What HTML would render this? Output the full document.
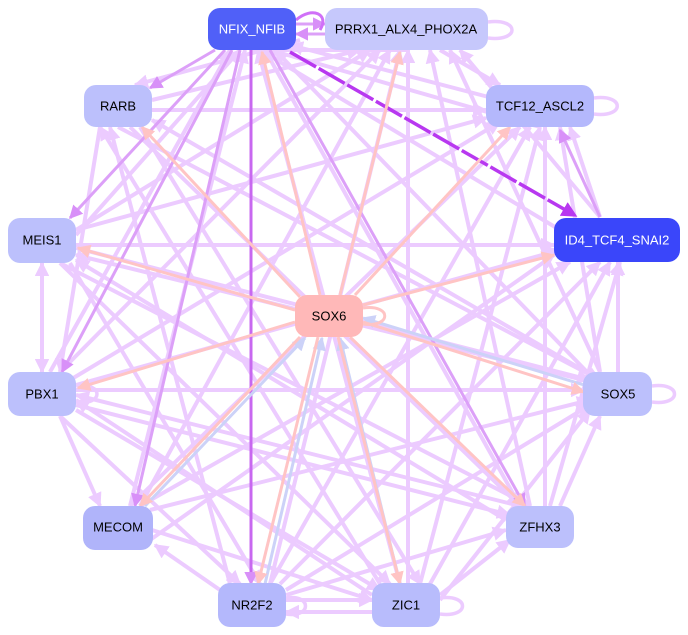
<!DOCTYPE html>
<html><head><meta charset="utf-8"><style>
html,body{margin:0;padding:0;background:#fff;width:688px;height:635px;overflow:hidden}
svg{display:block}
text{font-family:"Liberation Sans",sans-serif;font-size:13px;text-anchor:middle;dominant-baseline:central}
</style></head><body>
<svg width="688" height="635" viewBox="0 0 688 635" xmlns="http://www.w3.org/2000/svg">
<defs>
<marker id="al" viewBox="0 0 10 10" refX="9" refY="5" markerWidth="3.6" markerHeight="3.6" orient="auto"><path d="M0,0L10,5L0,10z" fill="#eccbff"/></marker>
<marker id="ad" viewBox="0 0 10 10" refX="9" refY="5" markerWidth="4.5" markerHeight="4.5" orient="auto"><path d="M0,0L10,5L0,10z" fill="#d890f8"/></marker>
<marker id="ap" viewBox="0 0 10 10" refX="9" refY="5" markerWidth="4.5" markerHeight="4.5" orient="auto"><path d="M0,0L10,5L0,10z" fill="#b838f0"/></marker>
<marker id="as" viewBox="0 0 10 10" refX="9" refY="5" markerWidth="4.5" markerHeight="4.5" orient="auto"><path d="M0,0L10,5L0,10z" fill="#ffc4c4"/></marker>
<marker id="ab" viewBox="0 0 10 10" refX="9" refY="5" markerWidth="4.5" markerHeight="4.5" orient="auto"><path d="M0,0L10,5L0,10z" fill="#ccd2f8"/></marker>
</defs>
<g stroke="#eccbff" stroke-width="4" fill="none" marker-end="url(#al)">
<line x1="406" y1="50" x2="252" y2="50"/>
<line x1="300" y1="40" x2="135" y2="85"/>
<line x1="500" y1="100" x2="290" y2="45"/>
<line x1="540" y1="127" x2="270" y2="50"/>
<line x1="76" y1="235" x2="240" y2="50"/>
<line x1="560" y1="230" x2="260" y2="50"/>
<line x1="50" y1="372" x2="230" y2="50"/>
<line x1="590" y1="375" x2="275" y2="50"/>
<line x1="130" y1="506" x2="245" y2="50"/>
<line x1="520" y1="506" x2="265" y2="50"/>
<line x1="400" y1="584" x2="258" y2="50"/>
<line x1="152" y1="100" x2="360" y2="50"/>
<line x1="440" y1="50" x2="500" y2="85"/>
<line x1="76" y1="230" x2="370" y2="50"/>
<line x1="600" y1="217" x2="460" y2="50"/>
<line x1="60" y1="372" x2="380" y2="50"/>
<line x1="600" y1="372" x2="450" y2="50"/>
<line x1="140" y1="506" x2="390" y2="50"/>
<line x1="530" y1="506" x2="430" y2="50"/>
<line x1="270" y1="584" x2="400" y2="50"/>
<line x1="408" y1="584" x2="408" y2="50"/>
<line x1="152" y1="110" x2="486" y2="110"/>
<line x1="118" y1="127" x2="600" y2="380"/>
<line x1="100" y1="127" x2="60" y2="372"/>
<line x1="130" y1="127" x2="520" y2="506"/>
<line x1="140" y1="127" x2="420" y2="584"/>
<line x1="76" y1="245" x2="554" y2="245"/>
<line x1="76" y1="248" x2="590" y2="380"/>
<line x1="60" y1="263" x2="530" y2="506"/>
<line x1="60" y1="263" x2="390" y2="584"/>
<line x1="76" y1="230" x2="486" y2="118"/>
<line x1="42" y1="263" x2="42" y2="372"/>
<line x1="42" y1="372" x2="42" y2="263"/>
<line x1="70" y1="263" x2="260" y2="584"/>
<line x1="76" y1="390" x2="584" y2="390"/>
<line x1="76" y1="385" x2="560" y2="250"/>
<line x1="70" y1="380" x2="500" y2="122"/>
<line x1="76" y1="405" x2="510" y2="515"/>
<line x1="76" y1="410" x2="380" y2="590"/>
<line x1="60" y1="416" x2="240" y2="584"/>
<line x1="60" y1="416" x2="100" y2="506"/>
<line x1="152" y1="530" x2="372" y2="600"/>
<line x1="150" y1="510" x2="590" y2="400"/>
<line x1="140" y1="506" x2="570" y2="262"/>
<line x1="130" y1="506" x2="520" y2="127"/>
<line x1="220" y1="590" x2="155" y2="545"/>
<line x1="286" y1="600" x2="372" y2="600"/>
<line x1="372" y1="612" x2="286" y2="612"/>
<line x1="286" y1="590" x2="590" y2="405"/>
<line x1="280" y1="584" x2="600" y2="262"/>
<line x1="270" y1="584" x2="530" y2="127"/>
<line x1="286" y1="595" x2="506" y2="530"/>
<line x1="440" y1="600" x2="590" y2="410"/>
<line x1="430" y1="584" x2="610" y2="262"/>
<line x1="420" y1="584" x2="540" y2="127"/>
<line x1="440" y1="595" x2="510" y2="540"/>
<line x1="560" y1="506" x2="600" y2="416"/>
<line x1="550" y1="506" x2="620" y2="262"/>
<line x1="545" y1="506" x2="545" y2="127"/>
<line x1="618" y1="372" x2="618" y2="262"/>
<line x1="600" y1="372" x2="560" y2="127"/>
<line x1="600" y1="217" x2="570" y2="127"/>
<line x1="600" y1="380" x2="152" y2="120"/>
<line x1="584" y1="380" x2="76" y2="255"/>
<line x1="520" y1="506" x2="76" y2="395"/>
<line x1="506" y1="520" x2="76" y2="260"/>
<line x1="380" y1="584" x2="100" y2="127"/>
<line x1="372" y1="595" x2="76" y2="400"/>
<line x1="230" y1="584" x2="110" y2="127"/>
<line x1="150" y1="540" x2="554" y2="255"/>
</g>
<g stroke="#eccbff" stroke-width="3.5" fill="none">
<path d="M488,22 C520,18 520,42 488,38"/>
<path d="M594,98 C625,94 625,118 594,114"/>
<path d="M652,386 C682,382 682,406 652,402"/>
<path d="M76,386 C104,382 104,406 76,402"/>
<path d="M440,598 C470,594 470,618 440,614"/>
<path d="M286,598 C312,594 312,618 286,614"/>
</g>
<g stroke="#dca0f8" stroke-width="3" fill="none" marker-end="url(#ad)">
<line x1="215" y1="50" x2="150" y2="88"/>
<line x1="225" y1="50" x2="70" y2="218"/>
<line x1="232" y1="50" x2="62" y2="372"/>
<line x1="240" y1="50" x2="135" y2="506"/>
<line x1="270" y1="50" x2="525" y2="506"/>
<line x1="600" y1="217" x2="560" y2="130"/>
<line x1="296" y1="24" x2="325" y2="24"/>
<line x1="325" y1="34" x2="296" y2="34"/>
</g>
<path d="M296,20 C312,6 330,14 320,30" stroke="#d070f8" stroke-width="3" fill="none"/>
<line x1="251" y1="50" x2="251" y2="584" stroke="#c868f0" stroke-width="3" marker-end="url(#ad)"/>
<line x1="290" y1="52" x2="576" y2="216" stroke="#b838f0" stroke-width="3.5" stroke-dasharray="30,3" marker-end="url(#ap)"/>
<g stroke="#ccd2f8" stroke-width="3" fill="none" marker-end="url(#ab)">
<line x1="584" y1="385" x2="363" y2="318"/>
<line x1="265" y1="584" x2="322" y2="338"/>
<line x1="400" y1="584" x2="340" y2="338"/>
<line x1="145" y1="506" x2="305" y2="338"/>
</g>
<g stroke="#ffc4c4" stroke-width="3" fill="none" marker-end="url(#as)">
<line x1="295" y1="310" x2="78" y2="248"/>
<line x1="295" y1="322" x2="78" y2="388"/>
<line x1="300" y1="297" x2="142" y2="127"/>
<line x1="320" y1="295" x2="262" y2="52"/>
<line x1="340" y1="295" x2="400" y2="52"/>
<line x1="355" y1="295" x2="510" y2="127"/>
<line x1="363" y1="305" x2="554" y2="255"/>
<line x1="363" y1="322" x2="584" y2="392"/>
<line x1="350" y1="337" x2="525" y2="506"/>
<line x1="338" y1="337" x2="400" y2="584"/>
<line x1="318" y1="337" x2="258" y2="584"/>
<line x1="300" y1="337" x2="140" y2="506"/>
</g>
<path d="M363,308 C392,304 392,328 363,324" stroke="#ffc4c4" stroke-width="3" fill="none"/>
<g>
<rect x="208" y="8" width="88" height="42" rx="12" fill="#5060f8"/>
<text x="252" y="29" fill="#fff">NFIX_NFIB</text>
<rect x="325" y="8" width="163" height="42" rx="12" fill="#c6c8fc"/>
<text x="406" y="29">PRRX1_ALX4_PHOX2A</text>
<rect x="84" y="85" width="68" height="42" rx="12" fill="#bcc0fc"/>
<text x="118" y="106">RARB</text>
<rect x="486" y="85" width="108" height="42" rx="12" fill="#b4b8fc"/>
<text x="540" y="106">TCF12_ASCL2</text>
<rect x="8" y="218" width="68" height="45" rx="12" fill="#bcc0fc"/>
<text x="42" y="240">MEIS1</text>
<rect x="554" y="218" width="126" height="44" rx="12" fill="#3a46fa"/>
<text x="617" y="240" fill="#fff">ID4_TCF4_SNAI2</text>
<rect x="295" y="295" width="68" height="42" rx="12" fill="#ffb8b8"/>
<text x="329" y="316">SOX6</text>
<rect x="8" y="372" width="68" height="44" rx="12" fill="#bcc0fc"/>
<text x="42" y="394">PBX1</text>
<rect x="583" y="372" width="69" height="44" rx="12" fill="#bcc0fc"/>
<text x="618" y="394">SOX5</text>
<rect x="83" y="506" width="70" height="44" rx="12" fill="#b0b4fa"/>
<text x="118" y="527">MECOM</text>
<rect x="506" y="506" width="68" height="42" rx="12" fill="#bcc0fc"/>
<text x="540" y="527">ZFHX3</text>
<rect x="218" y="583" width="68" height="44" rx="12" fill="#b4b8fc"/>
<text x="252" y="605">NR2F2</text>
<rect x="372" y="583" width="68" height="44" rx="12" fill="#b8bcfc"/>
<text x="406" y="605">ZIC1</text>
</g>
</svg>
</body></html>
